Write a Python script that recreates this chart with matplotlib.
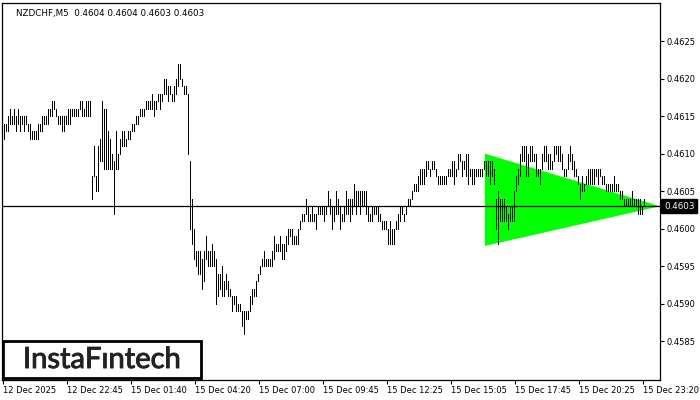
import numpy as np
import matplotlib.pyplot as plt
import matplotlib.patheffects as pe
from matplotlib.patches import Polygon, Rectangle

# NZDCHF M5 bars, prices in units of 0.0001
high = [4614, 4614, 4615, 4616, 4615, 4616, 4615, 4616, 4615, 4615,
        4615, 4615, 4614, 4614, 4613, 4613, 4613, 4614, 4614, 4615,
        4615, 4615, 4616, 4616, 4617, 4617, 4616, 4615, 4615, 4615,
        4615, 4615, 4616, 4616, 4616, 4616, 4616, 4616, 4617, 4617,
        4616, 4617, 4617, 4617, 4607, 4611, 4607, 4611, 4612, 4617,
        4616, 4616, 4613, 4612, 4610, 4609, 4613, 4610, 4612,
        4613, 4613, 4612, 4613, 4613, 4614, 4614, 4615, 4615, 4616,
        4616, 4616, 4617, 4617, 4617, 4618, 4617, 4617, 4618, 4618,
        4618, 4620, 4620, 4619, 4619, 4618, 4619, 4620, 4622, 4622,
        4620, 4619, 4619, 4618, 4609, 4604, 4600, 4597, 4597, 4597,
        4596, 4597, 4599, 4597, 4597, 4598, 4597, 4596, 4594, 4594,
        4595, 4593, 4594, 4593, 4592, 4591, 4591, 4591, 4590, 4590,
        4589, 4589, 4589, 4589, 4591,
        4592, 4592, 4593, 4594, 4595, 4596, 4597, 4596, 4596, 4596,
        4597, 4599, 4598, 4598, 4599, 4598, 4598, 4599, 4600, 4600,
        4600, 4599, 4599, 4600, 4601, 4602, 4602, 4604, 4603, 4602,
        4603, 4602, 4602, 4603, 4603, 4603, 4603, 4603, 4605, 4604,
        4603, 4603, 4605, 4604, 4603, 4602, 4603, 4605, 4604, 4604,
        4604, 4606, 4605, 4605, 4605, 4605, 4605, 4605, 4603, 4602,
        4603, 4603, 4603, 4603, 4602, 4601, 4601, 4601, 4600, 4601,
        4600, 4600, 4601, 4602, 4603, 4603, 4602, 4603, 4604, 4604,
        4605, 4606, 4606,
        4607, 4608, 4608, 4608, 4609, 4609, 4608, 4609, 4609, 4608,
        4607, 4607, 4607, 4607, 4607, 4608, 4608, 4609, 4609, 4608,
        4610, 4610, 4609, 4609, 4610, 4610, 4608, 4608, 4608, 4608,
        4608, 4608, 4608, 4609, 4609, 4609, 4609, 4609, 4608, 4604,
        4605, 4604, 4604, 4604, 4603, 4602, 4603, 4603, 4605, 4607,
        4608, 4610, 4611, 4611, 4611, 4610, 4611, 4611, 4610, 4610,
        4608, 4608, 4610, 4611, 4611, 4610, 4610, 4609, 4611, 4611,
        4611, 4611, 4610, 4608, 4608, 4610, 4611, 4610, 4609, 4608,
        4607, 4606, 4607, 4606, 4607, 4608, 4608, 4608, 4608, 4608,
        4608, 4608, 4607, 4607, 4606, 4606, 4606, 4606, 4607, 4606,
        4606, 4605, 4605, 4604, 4604, 4604, 4604, 4605, 4604, 4604,
        4604, 4604, 4603, 4604]
low = [4612, 4613, 4613, 4614, 4614, 4614, 4613, 4614, 4613, 4614,
       4613, 4614, 4613, 4612, 4612, 4612, 4612, 4612, 4613, 4613,
       4614, 4614, 4614, 4615, 4615, 4616, 4615, 4614, 4614, 4613,
       4613, 4614, 4614, 4614, 4615, 4615, 4615, 4615, 4616, 4615,
       4615, 4615, 4615, 4615, 4604, 4607, 4605, 4605, 4609, 4609,
       4608, 4608, 4608, 4608, 4608, 4602, 4608, 4608, 4610,
       4611, 4611, 4611, 4612, 4612, 4613, 4613, 4614, 4614, 4615,
       4615, 4615, 4616, 4616, 4616, 4616, 4615, 4616, 4617, 4616,
       4617, 4618, 4618, 4617, 4618, 4617, 4617, 4618, 4619, 4620,
       4619, 4618, 4618, 4610, 4600, 4598, 4596, 4595, 4594, 4594,
       4592, 4593, 4596, 4595, 4595, 4595, 4595, 4590, 4591, 4592,
       4591, 4591, 4592, 4591, 4591, 4589, 4590, 4589, 4589, 4589,
       4587, 4586, 4588, 4588, 4589,
       4590, 4591, 4591, 4593, 4594, 4595, 4595, 4595, 4595, 4595,
       4595, 4596, 4597, 4597, 4597, 4596, 4596, 4597, 4598, 4599,
       4598, 4598, 4598, 4598, 4600, 4601, 4601, 4602, 4601, 4601,
       4601, 4601, 4600, 4602, 4602, 4602, 4601, 4602, 4603, 4602,
       4600, 4601, 4602, 4602, 4600, 4601, 4601, 4602, 4602, 4601,
       4602, 4603, 4602, 4603, 4602, 4603, 4603, 4602, 4601, 4601,
       4601, 4602, 4602, 4601, 4601, 4600, 4600, 4600, 4598, 4598,
       4598, 4598, 4600, 4600, 4601, 4602, 4601, 4602, 4603, 4603,
       4604, 4605, 4605,
       4605, 4606, 4606, 4606, 4607, 4608, 4607, 4608, 4608, 4607,
       4606, 4606, 4606, 4606, 4606, 4607, 4607, 4607, 4606, 4607,
       4608, 4609, 4607, 4608, 4607, 4606, 4607, 4606, 4606, 4607,
       4607, 4607, 4607, 4608, 4607, 4607, 4606, 4607, 4606, 4600,
       4598, 4601, 4601, 4601, 4601, 4600, 4601, 4601, 4601, 4605,
       4606, 4607, 4609, 4609, 4607, 4607, 4609, 4609, 4609, 4607,
       4607, 4606, 4608, 4609, 4609, 4608, 4608, 4608, 4609, 4610,
       4609, 4609, 4608, 4607, 4607, 4608, 4609, 4608, 4607, 4607,
       4606, 4604, 4605, 4605, 4606, 4606, 4606, 4606, 4606, 4607,
       4606, 4607, 4606, 4606, 4605, 4605, 4605, 4605, 4605, 4605,
       4605, 4604, 4604, 4603, 4603, 4603, 4603, 4603, 4603, 4603,
       4602, 4602, 4602, 4603]

high = np.array(high) / 10000
low = np.array(low) / 10000
n = len(high)

last_price = 0.4603
header = "NZDCHF,M5  0.4604 0.4604 0.4603 0.4603"

date_labels = ["12 Dec 2025", "12 Dec 22:45", "15 Dec 01:40", "15 Dec 04:20",
               "15 Dec 07:00", "15 Dec 09:45", "15 Dec 12:25", "15 Dec 15:05",
               "15 Dec 17:45", "15 Dec 20:25", "15 Dec 23:20"]
price_ticks = [0.4585, 0.4590, 0.4595, 0.4600, 0.4605, 0.4610, 0.4615, 0.4620, 0.4625]

# triangle pattern: (bar index, price)
tri_start, tri_end = 240.5, 328
tri_top, tri_bottom, tri_apex = 0.4610, 0.45977, 0.4603

fig = plt.figure(figsize=(7, 4), dpi=100)
ax = fig.add_axes([2/700, 20/400, 658/700, 377/400])

ax.add_patch(Polygon([[tri_start, tri_top], [tri_end, tri_apex], [tri_start, tri_bottom]],
                     closed=True, facecolor='#00ff00', edgecolor='none', zorder=1))

x = np.arange(n)
ax.vlines(x, low, high, colors='black', linewidth=0.4, antialiased=False, zorder=2)
ax.axhline(last_price, color='black', linewidth=0.9, zorder=3)

ax.set_xlim(-1, 328)
ax.set_ylim(0.457983, 0.463009)

ax.yaxis.tick_right()
ax.set_yticks(price_ticks)
ax.set_yticklabels(['%.4f' % p for p in price_ticks])
ax.set_xticks(np.arange(len(date_labels)) * 32 - 0.5)
ax.set_xticklabels(date_labels, ha='left')
ax.tick_params(axis='both', direction='out', length=3, width=0.8, labelsize=6, pad=2)
ax.tick_params(axis='x', pad=1.5)
for s in ax.spines.values():
    s.set_linewidth(0.9)

ax.text(14/658, 0.985, header, transform=ax.transAxes, fontsize=6.3,
        va='top', ha='left', color='black')

# current price label on the right axis
ax.text(1.006, last_price, '%.4f' % last_price, transform=ax.get_yaxis_transform(),
        fontsize=6.3, color='white', va='center', ha='left',
        bbox=dict(boxstyle='square,pad=0.3', facecolor='black', edgecolor='black'))

# logo box
fig.patches.append(Rectangle((3/700, 22/400), 198/700, 37/400, transform=fig.transFigure,
                             facecolor='white', edgecolor='black', linewidth=2, zorder=5))
fig.text(102/700, 40/400, "InstaF\u0131ntech", fontsize=21, family='Lato',
         color='#222222', ha='center', va='center', zorder=6,
         path_effects=[pe.withStroke(linewidth=0.7, foreground='#222222')])

fig.savefig('out.png', dpi=100)
